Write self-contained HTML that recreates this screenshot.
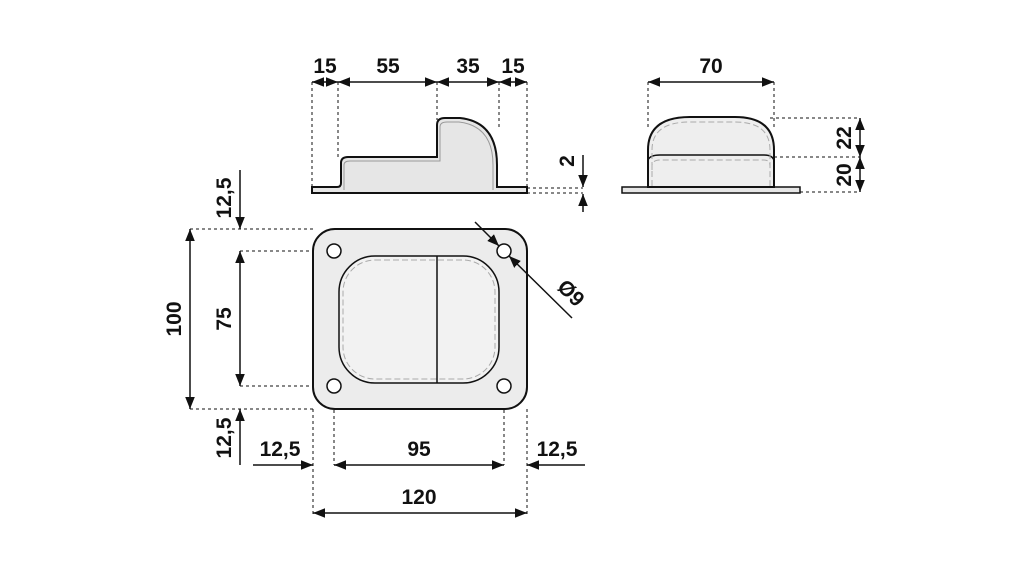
<!DOCTYPE html>
<html><head><meta charset="utf-8"><style>html,body{margin:0;padding:0;background:#fff}svg{display:block}text{font-family:"Liberation Sans Narrow","Liberation Sans",sans-serif;font-weight:bold;font-size:21px;fill:#111;text-anchor:middle}</style></head><body>
<svg width="1021" height="567" viewBox="0 0 1021 567" xmlns="http://www.w3.org/2000/svg">
<defs><marker id="a" viewBox="0 0 10 10" refX="10" refY="5" markerWidth="8" markerHeight="8" orient="auto-start-reverse"><path d="M0,1 L10,5 L0,9 z" fill="#111"/></marker></defs>
<g stroke="#111" stroke-width="1" stroke-dasharray="3,3" fill="none">
<!-- side view ext -->
<path d="M312,82V187 M338,82V157 M437,82V120 M499,82V130 M527,82V187 M527,188H583 M527,193H583"/>
<!-- end view ext -->
<path d="M648,82V130 M774,82V130 M770,118H860 M774,157H860 M800,192H860"/>
<!-- plan ext -->
<path d="M190,229H313 M190,409H313 M240,251H334 M240,386H334 M313,409V517 M527,409V517 M334,386V465 M504,386V465"/>
</g>
<!-- side view -->
<path d="M312,187H337Q341,187 341,183V163Q341,157 348,157H437V125Q437,118 445,118H460Q497,122 497,165V187H527V193H312Z" fill="#e6e6e6" stroke="#111" stroke-width="2"/>
<path d="M344,190V165Q344,161 350,161H440V127Q440,122 447,122H459Q493,126 493,165V190" fill="none" stroke="#999" stroke-width="1"/>
<!-- end view -->
<rect x="622" y="187" width="178" height="6" fill="#e6e6e6" stroke="#111" stroke-width="1.5"/>
<path d="M648,187V150Q648,117 690,117H735Q774,117 774,150V187Z" fill="#eee" stroke="#111" stroke-width="2"/>
<path d="M648,160Q650,155 660,155H764Q774,155 774,162" fill="none" stroke="#111" stroke-width="1.5"/>
<path d="M652,186V150Q652,122 690,122H735Q770,122 770,150V186 M652,170V165Q653,160 660,160H764Q770,160 770,166" fill="none" stroke="#aaa" stroke-dasharray="6,3"/>
<!-- plan view -->
<rect x="313" y="229" width="214" height="180" rx="22" fill="#ececec" stroke="#111" stroke-width="2"/>
<rect x="339" y="256" width="160" height="127" rx="36" fill="#f2f2f2" stroke="#111" stroke-width="1.5"/>
<rect x="343" y="260" width="152" height="119" rx="32" fill="none" stroke="#aaa" stroke-dasharray="6,3"/>
<line x1="437" y1="256" x2="437" y2="383" stroke="#111" stroke-width="1.5"/>
<g fill="#fff" stroke="#111" stroke-width="1.5"><circle cx="334" cy="251" r="7"/><circle cx="504" cy="251" r="7"/><circle cx="334" cy="386" r="7"/><circle cx="504" cy="386" r="7"/></g>
<!-- dimension lines -->
<g stroke="#111" stroke-width="1.5" fill="none">
<line x1="312" y1="82" x2="338" y2="82" marker-start="url(#a)" marker-end="url(#a)"/>
<line x1="338" y1="82" x2="437" y2="82" marker-start="url(#a)" marker-end="url(#a)"/>
<line x1="437" y1="82" x2="499" y2="82" marker-start="url(#a)" marker-end="url(#a)"/>
<line x1="499" y1="82" x2="527" y2="82" marker-start="url(#a)" marker-end="url(#a)"/>
<line x1="583" y1="155" x2="583" y2="187" marker-end="url(#a)"/>
<line x1="583" y1="212" x2="583" y2="194" marker-end="url(#a)"/>
<line x1="648" y1="82" x2="774" y2="82" marker-start="url(#a)" marker-end="url(#a)"/>
<line x1="860" y1="118" x2="860" y2="157" marker-start="url(#a)" marker-end="url(#a)"/>
<line x1="860" y1="157" x2="860" y2="192" marker-start="url(#a)" marker-end="url(#a)"/>
<line x1="190" y1="229" x2="190" y2="409" marker-start="url(#a)" marker-end="url(#a)"/>
<line x1="240" y1="251" x2="240" y2="386" marker-start="url(#a)" marker-end="url(#a)"/>
<line x1="240" y1="170" x2="240" y2="229" marker-end="url(#a)"/>
<line x1="240" y1="465" x2="240" y2="409" marker-end="url(#a)"/>
<line x1="253" y1="465" x2="313" y2="465" marker-end="url(#a)"/>
<line x1="334" y1="465" x2="504" y2="465" marker-start="url(#a)" marker-end="url(#a)"/>
<line x1="585" y1="465" x2="527" y2="465" marker-end="url(#a)"/>
<line x1="313" y1="513" x2="527" y2="513" marker-start="url(#a)" marker-end="url(#a)"/>
<line x1="475" y1="222" x2="499" y2="246" marker-end="url(#a)"/>
<line x1="572" y1="318" x2="509" y2="256" marker-end="url(#a)"/>
</g>
<!-- labels -->
<text x="325" y="73">15</text><text x="388" y="73">55</text><text x="468" y="73">35</text><text x="513" y="73">15</text>
<text x="711" y="73">70</text>
<text transform="translate(574,161) rotate(-90)">2</text>
<text transform="translate(851,138) rotate(-90)">22</text>
<text transform="translate(851,175) rotate(-90)">20</text>
<text transform="translate(181,319) rotate(-90)">100</text>
<text transform="translate(231,319) rotate(-90)">75</text>
<text transform="translate(231,198) rotate(-90)">12,5</text>
<text transform="translate(231,438) rotate(-90)">12,5</text>
<text x="280" y="456">12,5</text><text x="419" y="456">95</text><text x="557" y="456">12,5</text>
<text x="419" y="504">120</text>
<text transform="translate(566,298) rotate(45)">Ø9</text>
</svg>
</body></html>
